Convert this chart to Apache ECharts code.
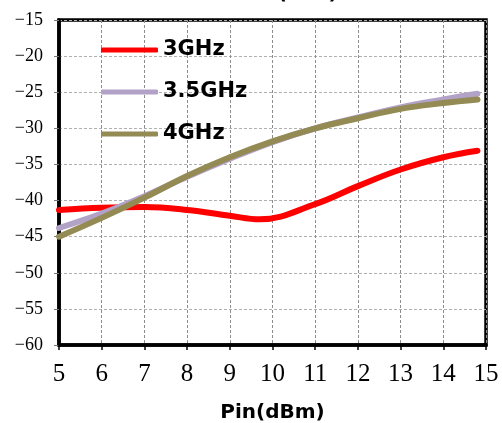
<!DOCTYPE html>
<html>
<head>
<meta charset="utf-8">
<script src="https://cdn.jsdelivr.net/npm/echarts@6/dist/echarts.min.js"></script>
<style>
  html, body { margin: 0; padding: 0; background: #fff; }
  #chart { width: 502px; height: 423px; }
</style>
</head>
<body>
<div id="chart"></div>
<script>
// Input power sweep (dBm)
const pin = [5, 6, 7, 8, 9, 10, 11, 12, 13, 14, 14.8];
// The 3GHz trace is sampled at its minimum instead of at 10 dBm
const pin3 = [5, 6, 7, 8, 9, 9.7, 11, 12, 13, 14, 14.8];

// IMD3 (dBc) at each carrier frequency
const imd3_3GHz  = [-41.3, -41.0, -40.9, -41.3, -42.1, -42.6, -40.5, -38.0, -35.7, -34.0, -33.1];
const imd3_35GHz = [-43.8, -41.8, -39.4, -36.7, -34.2, -31.9, -30.0, -28.5, -27.1, -26.0, -25.2];
const imd3_4GHz  = [-45.0, -42.4, -39.6, -36.6, -34.0, -31.8, -30.0, -28.6, -27.3, -26.5, -26.0];

const seriesNames = ['3GHz', '3.5GHz', '4GHz'];
const seriesColors = ['#ff0000', '#b3a2c7', '#948a54'];
const yTicks = [-60, -55, -50, -45, -40, -35, -30, -25, -20, -15];

function pairs(xs, ys) { return xs.map((x, i) => [x, ys[i]]); }

const chart = echarts.init(document.getElementById('chart'));
const allX = [pin3, pin, pin];
const allData = [imd3_3GHz, imd3_35GHz, imd3_4GHz];

chart.setOption({
  animation: false,
  backgroundColor: '#ffffff',
  graphic: [{
    type: 'text',
    left: 220,
    top: -16,
    style: {
      text: 'IMD3(dBc)',
      font: 'bold 20px "DejaVu Sans"',
      fill: '#000'
    }
  }],
  grid: {
    left: 59, right: 16, top: 20, bottom: 78,
    outerBoundsMode: 'none',
    containLabel: false,
    show: true,
    borderColor: '#000',
    borderWidth: 3.5
  },
  legend: {
    orient: 'vertical',
    left: 96,
    top: 33,
    icon: 'roundRect',
    itemWidth: 57,
    itemHeight: 5,
    itemGap: 18,
    textStyle: {
      fontFamily: '"DejaVu Sans"',
      fontWeight: 'bold',
      fontSize: 21,
      lineHeight: 24,
      color: '#000'
    },
    data: seriesNames
  },
  xAxis: {
    type: 'value',
    min: 5, max: 15, interval: 1,
    name: 'Pin(dBm)',
    nameLocation: 'middle',
    nameGap: 58,
    nameTextStyle: {
      fontFamily: '"DejaVu Sans"',
      fontWeight: 'bold',
      fontSize: 20,
      color: '#000'
    },
    axisLine: { show: true, lineStyle: { color: '#000', width: 3.5 } },
    axisTick: { show: true, length: 5, lineStyle: { color: '#000', width: 1.5 } },
    axisLabel: {
      margin: 17,
      fontFamily: '"Liberation Serif"',
      fontSize: 25,
      color: '#000'
    },
    splitLine: { show: true, lineStyle: { color: '#8c8c8c', type: [3, 2], width: 1 } }
  },
  yAxis: {
    type: 'value',
    min: -60, max: -15, interval: 5,
    axisLine: { show: true, lineStyle: { color: '#000', width: 3.5 } },
    axisTick: { show: true, length: 5, lineStyle: { color: '#777', width: 1 } },
    axisLabel: {
      margin: 16,
      fontFamily: '"Liberation Serif"',
      fontSize: 18,
      color: '#000',
      formatter: v => yTicks.includes(v) ? String(v).replace('-', '\u2212') : ''
    },
    splitLine: { show: true, lineStyle: { color: '#b0b0b0', type: [3, 2], width: 1 } }
  },
  series: seriesNames.map((name, i) => ({
    name: name,
    type: 'line',
    smooth: 0.4,
    symbol: 'none',
    data: pairs(allX[i], allData[i]),
    lineStyle: { color: seriesColors[i], width: 6, cap: 'round' },
    itemStyle: { color: seriesColors[i] },
    z: 3 + i
  }))
});
</script>
</body>
</html>
